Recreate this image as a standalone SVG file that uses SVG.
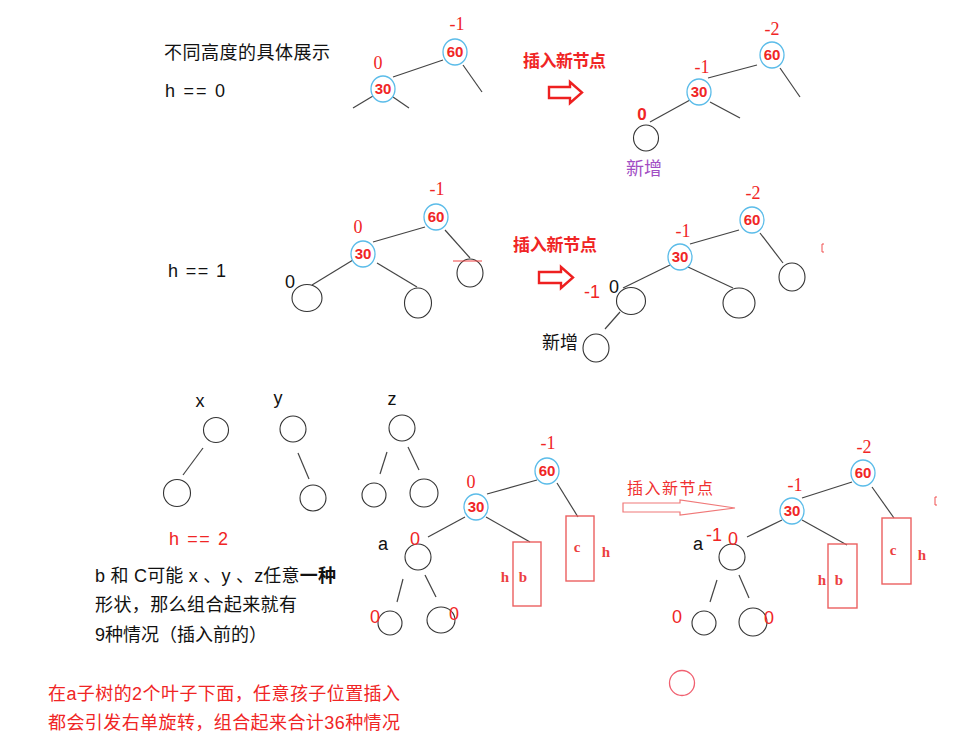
<svg xmlns="http://www.w3.org/2000/svg" width="963" height="747" viewBox="0 0 963 747">
<style>
.t{font-family:"Liberation Sans","Noto Sans CJK SC",sans-serif;font-size:18px;fill:#111}
.r{fill:#f02525}
.bf{font-family:"Liberation Serif","DejaVu Serif",serif;font-size:18px;fill:#f02525;text-anchor:middle}
.nt{font-family:"Liberation Sans",sans-serif;font-weight:bold;font-size:15px;fill:#f02525;text-anchor:middle}
.bn{fill:#fff;stroke:#5bbce9;stroke-width:1.3}
.cn{fill:none;stroke:#333;stroke-width:1.1}
.ed line{stroke:#444;stroke-width:1.2}
.zr{font-family:"Liberation Sans",sans-serif;font-size:18px;fill:#f02525;text-anchor:middle}
.bx{fill:none;stroke:#ec6060;stroke-width:1.4}
.bl{font-family:"Liberation Serif",serif;font-weight:bold;font-size:15px;fill:#ec4040;text-anchor:middle}
.ins{font-family:"Liberation Sans","Noto Sans CJK SC",sans-serif;font-weight:bold;font-size:17px;fill:#f02525}
</style>
<rect width="963" height="747" fill="#fff"/>

<!-- Section 1 -->
<text class="t" x="164" y="59" textLength="166">不同高度的具体展示</text>
<text class="t" x="165" y="97" textLength="60">h == 0</text>

<g class="ed" id="edges">
<line x1="393" y1="77" x2="443" y2="60"/>
<line x1="463" y1="65" x2="482" y2="92"/>
<line x1="373" y1="96" x2="353" y2="108"/>
<line x1="393" y1="97" x2="409" y2="108"/>

<line x1="708" y1="78" x2="757" y2="65"/>
<line x1="780" y1="68" x2="800" y2="97"/>
<line x1="710" y1="102" x2="740" y2="118"/>
<line x1="690" y1="100" x2="650" y2="122"/>

<line x1="373" y1="242" x2="425" y2="227"/>
<line x1="445" y1="230" x2="470" y2="258"/>
<line x1="353" y1="260" x2="312" y2="285"/>
<line x1="377" y1="263" x2="417" y2="287"/>

<line x1="690" y1="244" x2="739" y2="230"/>
<line x1="760" y1="233" x2="783" y2="263"/>
<line x1="688" y1="267" x2="733" y2="288"/>
<line x1="670" y1="265" x2="623" y2="288"/>
<line x1="620" y1="312" x2="605" y2="329"/>

<line x1="203" y1="448" x2="183" y2="475"/>
<line x1="298" y1="453" x2="309" y2="479"/>
<line x1="387" y1="452" x2="380" y2="474"/>
<line x1="408" y1="447" x2="419" y2="470"/>

<line x1="487" y1="494" x2="537" y2="480"/>
<line x1="557" y1="483" x2="578" y2="517"/>
<line x1="486" y1="517" x2="530" y2="542"/>
<line x1="465" y1="517" x2="428" y2="537"/>
<line x1="403" y1="579" x2="397" y2="602"/>
<line x1="425" y1="575" x2="436" y2="597"/>

<line x1="802" y1="498" x2="852" y2="482"/>
<line x1="872" y1="487" x2="894" y2="518"/>
<line x1="802" y1="520" x2="847" y2="545"/>
<line x1="782" y1="520" x2="747" y2="537"/>
<line x1="717" y1="580" x2="710" y2="602"/>
<line x1="739" y1="575" x2="749" y2="598"/>
</g>

<g id="n1-60"><ellipse class="bn" cx="455" cy="52" rx="12" ry="13"/><text class="nt" x="455" y="57">60</text><text class="bf" x="457" y="30">-1</text></g>
<g id="n1-30"><ellipse class="bn" cx="383" cy="89" rx="12" ry="13"/><text class="nt" x="383" y="94">30</text><text class="bf" x="378" y="69">0</text></g>

<g id="arrow1">
<text class="ins" x="523" y="67" textLength="83">插入新节点</text>
<polygon points="549,87 570,87 570,82 582,92.5 570,103 570,98 549,98" fill="#fff" stroke="#ee2020" stroke-width="2.4"/>
</g>

<g id="n2-60"><ellipse class="bn" cx="772" cy="55" rx="12" ry="13"/><text class="nt" x="772" y="60">60</text><text class="bf" x="772" y="35">-2</text></g>
<g id="n2-30"><ellipse class="bn" cx="699" cy="92" rx="12" ry="13"/><text class="nt" x="699" y="97">30</text><text class="bf" x="702" y="73">-1</text></g>
<g id="n2-new"><ellipse class="cn" cx="646" cy="138" rx="12.5" ry="13"/><text x="642" y="120" font-family="Liberation Sans,sans-serif" font-weight="bold" font-size="17" fill="#f02525" text-anchor="middle">0</text><text x="626" y="175" font-family="Noto Sans CJK SC,sans-serif" font-size="18" fill="#a24ec4">新增</text></g>

<!-- Section 2 -->
<text class="t" x="168" y="277" textLength="58">h == 1</text>

<g id="n3-60"><ellipse class="bn" cx="436" cy="217" rx="12" ry="13"/><text class="nt" x="436" y="222">60</text><text class="bf" x="437" y="195">-1</text></g>
<g id="n3-30"><ellipse class="bn" cx="363" cy="254" rx="12" ry="13"/><text class="nt" x="363" y="259">30</text><text class="bf" x="358" y="233">0</text></g>
<g id="n3-l"><ellipse class="cn" cx="307" cy="298" rx="15" ry="13.5"/><text class="t" x="290" y="288" text-anchor="middle">0</text></g>
<g id="n3-m"><ellipse class="cn" cx="418" cy="303" rx="13.5" ry="15"/></g>
<g id="n3-r"><ellipse class="cn" cx="470" cy="273" rx="13" ry="14"/><line x1="453" y1="261" x2="482" y2="261" stroke="#f04040" stroke-width="1"/></g>

<g id="arrow2">
<text class="ins" x="513" y="251" textLength="84">插入新节点</text>
<polygon points="539,272 561,272 561,267 573,277.5 561,288 561,283 539,283" fill="#fff" stroke="#ee2020" stroke-width="2.4"/>
</g>

<g id="n4-60"><ellipse class="bn" cx="752" cy="220" rx="12" ry="13"/><text class="nt" x="752" y="225">60</text><text class="bf" x="753" y="199">-2</text></g>
<g id="n4-30"><ellipse class="bn" cx="680" cy="257" rx="12" ry="13"/><text class="nt" x="680" y="262">30</text><text class="bf" x="683" y="237">-1</text></g>
<g id="n4-r"><ellipse class="cn" cx="792" cy="277" rx="13" ry="14"/></g>
<g id="n4-m"><ellipse class="cn" cx="739" cy="303" rx="16" ry="15"/></g>
<g id="n4-l"><ellipse class="cn" cx="631" cy="301" rx="14.5" ry="13.5"/><text class="t" x="614" y="293" text-anchor="middle" font-size="20">0</text><text class="zr" x="592" y="298" font-size="17">-1</text></g>
<g id="n4-new"><ellipse class="cn" cx="596" cy="348" rx="13" ry="14"/><text x="542" y="349" font-family="Noto Sans CJK SC,sans-serif" font-size="18" fill="#111">新增</text></g>
<path d="M824,244 h-2 v8 h2" fill="none" stroke="#f05050" stroke-width="1"/>

<!-- Section 3 -->
<g id="tx"><text class="t" x="200" y="407" text-anchor="middle">x</text><circle class="cn" cx="216" cy="430" r="12.5"/><circle class="cn" cx="177" cy="493" r="13.5"/></g>
<g id="ty"><text class="t" x="278" y="404" text-anchor="middle">y</text><circle class="cn" cx="293" cy="429" r="13"/><circle class="cn" cx="313" cy="498" r="13"/></g>
<g id="tz"><text class="t" x="392" y="405" text-anchor="middle">z</text><circle class="cn" cx="402" cy="428" r="13"/><circle class="cn" cx="374" cy="495" r="12"/><ellipse class="cn" cx="424" cy="493" rx="14" ry="14"/></g>

<text class="t r" x="169" y="545" textLength="59">h == 2</text>
<text class="t" x="95" y="582" textLength="241">b 和 C可能 x 、y 、z任意<tspan font-weight="bold">一种</tspan></text>
<text class="t" x="95" y="611" textLength="202">形状，那么组合起来就有</text>
<text class="t" x="95" y="641">9种情况（插入前的）</text>
<text class="t r" x="48" y="700" textLength="352">在a子树的2个叶子下面，任意孩子位置插入</text>
<text class="t r" x="48" y="729" textLength="352">都会引发右单旋转，组合起来合计36种情况</text>

<g id="n5-60"><ellipse class="bn" cx="547" cy="471" rx="12" ry="13"/><text class="nt" x="547" y="476">60</text><text class="bf" x="548" y="449">-1</text></g>
<g id="n5-30"><ellipse class="bn" cx="476" cy="507" rx="12" ry="13"/><text class="nt" x="476" y="512">30</text><text class="bf" x="471" y="488">0</text></g>
<g id="n5-c"><rect class="bx" x="566" y="516" width="28" height="65"/><text class="bl" x="577" y="552">c</text><text class="bl" x="606" y="557">h</text></g>
<g id="n5-b"><rect class="bx" x="513" y="542" width="28" height="64"/><text class="bl" x="523" y="582">b</text><text class="bl" x="505" y="582">h</text></g>
<g id="n5-a"><circle class="cn" cx="418" cy="557" r="13"/><text class="t" x="383" y="550" text-anchor="middle">a</text><text class="zr" x="415" y="545">0</text></g>
<g id="n5-al"><circle class="cn" cx="390" cy="623" r="12"/><text class="zr" x="375" y="623">0</text></g>
<g id="n5-ar"><ellipse class="cn" cx="441" cy="620" rx="14" ry="13"/><text class="zr" x="454" y="620">0</text></g>

<g id="arrow3">
<text x="627" y="494" textLength="86" font-family="Noto Sans CJK SC,sans-serif" font-size="16" fill="#f03030">插入新节点</text>
<polygon points="623,503 680,503 680,500 735,508 680,515 680,512 623,512" fill="#fff" stroke="#f07878" stroke-width="1.2"/>
</g>

<g id="n6-60"><ellipse class="bn" cx="863" cy="473" rx="12" ry="13"/><text class="nt" x="863" y="478">60</text><text class="bf" x="864" y="453">-2</text></g>
<g id="n6-30"><ellipse class="bn" cx="792" cy="511" rx="12" ry="13"/><text class="nt" x="792" y="516">30</text><text class="bf" x="795" y="491">-1</text></g>
<g id="n6-c"><rect class="bx" x="882" y="518" width="29" height="66"/><text class="bl" x="893" y="555">c</text><text class="bl" x="922" y="560">h</text></g>
<g id="n6-b"><rect class="bx" x="828" y="544" width="29" height="64"/><text class="bl" x="839" y="585">b</text><text class="bl" x="822" y="585">h</text></g>
<g id="n6-a"><circle class="cn" cx="732" cy="557" r="13"/><text class="t" x="698" y="550" text-anchor="middle">a</text><text class="zr" x="714" y="541">-1</text><text class="zr" x="733" y="545">0</text></g>
<g id="n6-al"><circle class="cn" cx="704" cy="623" r="12"/><text class="zr" x="677" y="623">0</text></g>
<g id="n6-ar"><circle class="cn" cx="753" cy="622" r="14"/><text class="zr" x="769" y="624">0</text></g>
<g id="n6-new"><circle cx="682" cy="683" r="12.5" fill="none" stroke="#f06070" stroke-width="1.3"/></g>
<path d="M937,497 h-2 v8 h2" fill="none" stroke="#f05050" stroke-width="1"/>
</svg>
